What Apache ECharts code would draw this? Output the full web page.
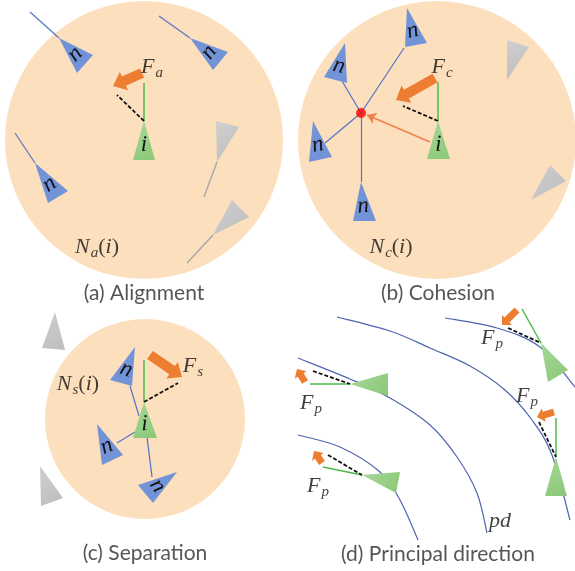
<!DOCTYPE html>
<html>
<head>
<meta charset="utf-8">
<script src="https://cdn.jsdelivr.net/npm/echarts@6/dist/echarts.min.js"></script>
<style>
  html, body { margin: 0; padding: 0; background: #fff; }
  #main { width: 575px; height: 571px; }
</style>
</head>
<body>
<div id="main"></div>
<script>
// neighbourhood circles: cx, cy, r
const circles = [[144, 140, 139], [437, 140, 139], [145, 419, 100]];

// agents: apex x,y then the two base corners
const triN = [
    [59, 38, 93, 55, 77, 73], [190, 38, 228, 52, 213, 70], [35, 163, 68, 191, 48, 203],
    [407, 8, 427, 43, 405, 47], [345, 43, 324, 77, 347, 83], [313, 121, 332, 157, 309, 162], [361, 182, 376, 221, 353, 221],
    [135, 347, 110, 380, 132, 386], [97, 424, 123, 455, 102, 465], [177, 472, 138, 485, 153, 503]
];
const triI = [[144, 121, 133, 160, 155, 160], [438, 121, 427, 159, 450, 159], [144, 402, 133, 438, 157, 438]];
const triGray = [
    [217, 162, 216, 121, 239, 127], [213, 235, 232, 200, 249, 217],
    [507, 80, 507, 40, 529, 47], [531, 200, 550, 165, 566, 181],
    [55, 312, 65, 350, 42, 348], [40, 466, 63, 498, 41, 506]
];
const triPd = [[350, 384, 388, 373, 388, 396], [362, 475, 400, 472, 396, 493], [541, 343, 568, 370, 548, 382], [556, 457, 545, 496, 567, 496]];

// segments: x1, y1, x2, y2
const blueLines = [
    [30, 12, 59, 38], [159, 16, 190, 38], [15, 133, 35, 163],
    [404, 48, 361, 113], [342, 81, 361, 113], [325, 143, 361, 113], [361.5, 182, 361.5, 113],
    [130, 386, 139, 416], [117, 443, 135, 432], [147, 437, 152, 477]
];
const grayLines = [[217, 162, 204, 197], [213, 235, 187, 263]];
const greenLines = [
    [144, 121, 144, 83], [438, 121, 438, 82], [144, 402, 144, 360],
    [310, 384, 350, 384], [323, 467, 362, 475], [522, 309, 541, 343], [556, 418, 556, 457]
];
const dashLines = [
    [144, 121, 117, 95], [438, 121, 403, 106], [144, 402, 178, 383],
    [313, 371, 350, 384], [328, 455, 362, 475], [508, 328, 541, 343], [539, 422, 556, 457]
];
const cohesionLine = [[430, 142, 367, 115]];
const centerOfMass = [[361, 113]];

// force arrows: tail x,y -> tip x,y
const bigArrows = [[142, 73, 113, 86], [435, 78, 396, 100], [150, 355, 182, 377]];
const smallArrows = [[305, 382, 297, 369], [322, 463, 314, 451], [517, 310, 502, 325], [554, 412, 537, 417]];

// principal direction curves
const curveA = [[298, 435], [340, 447], [380, 472], [400, 500], [418, 540]];
const curveB = [[298, 358], [350, 379], [390, 398], [430, 425], [457, 457], [477, 493], [487, 533]];
const curveC = [[337, 317], [390, 331], [430, 348], [470, 366], [505, 390], [532, 420], [552, 455], [570, 520]];
const curveD = [[445, 318], [497, 328], [540, 347], [575, 387]];

// texts
const captions = ['(a) Alignment', '(b) Cohesion', '(c) Separation', '(d) Principal direction'];
const captionPos = [[144, 293], [438, 293], [145, 553], [438, 554]];
const mathLabels = [
    [152, 67, '{f|F}{s|a}'], [442, 67, '{f|F}{s|c}'], [193, 366, '{f|F}{s|s}'],
    [97, 247, '{f|N}{s|a}{r|(}{f|i}{r|)}'], [391, 247, '{f|N}{s|c}{r|(}{f|i}{r|)}'], [78, 384, '{f|N}{s|s}{r|(}{f|i}{r|)}'],
    [311, 403, '{f|F}{s|p}'], [318, 486, '{f|F}{s|p}'], [492, 338, '{f|F}{s|p}'], [527, 396, '{f|F}{s|p}'],
    [500, 521, '{f|pd}']
];

const SERIF = "'Liberation Serif', 'DejaVu Serif', serif";

let chart = echarts.init(document.getElementById('main'));

function segs(arr) {
    return arr.map(s => ({ coords: [[s[0], s[1]], [s[2], s[3]]] }));
}

function triangleSeries(data, fill, letter, z) {
    return {
        type: 'custom',
        z: z,
        silent: true,
        data: data,
        renderItem: function (params, api) {
            let a = api.coord([api.value(0), api.value(1)]);
            let b = api.coord([api.value(2), api.value(3)]);
            let c = api.coord([api.value(4), api.value(5)]);
            let children = [{
                type: 'polygon',
                shape: { points: [a, b, c] },
                style: { fill: fill }
            }];
            if (letter) {
                let mx = (b[0] + c[0]) / 2, my = (b[1] + c[1]) / 2;
                let hx = a[0] - mx, hy = a[1] - my;
                let px = a[0] + (mx - a[0]) * 0.7, py = a[1] + (my - a[1]) * 0.7;
                children.push({
                    type: 'text',
                    x: px, y: py,
                    rotation: Math.atan2(-hx, -hy),
                    style: {
                        text: letter, y: -3,
                        font: 'italic 23px ' + SERIF,
                        fill: '#111',
                        align: 'center', verticalAlign: 'middle'
                    }
                });
            }
            return { type: 'group', children: children };
        }
    };
}

function arrowSeries(data, shaft, head, headLen, z) {
    return {
        type: 'custom',
        z: z,
        silent: true,
        data: data,
        renderItem: function (params, api) {
            let t = api.coord([api.value(0), api.value(1)]);
            let p = api.coord([api.value(2), api.value(3)]);
            let dx = p[0] - t[0], dy = p[1] - t[1];
            let len = Math.sqrt(dx * dx + dy * dy);
            let ux = dx / len, uy = dy / len, nx = -uy, ny = ux;
            let bx = p[0] - ux * headLen, by = p[1] - uy * headLen;
            let pts = [
                [t[0] + nx * shaft / 2, t[1] + ny * shaft / 2],
                [bx + nx * shaft / 2, by + ny * shaft / 2],
                [bx + nx * head / 2, by + ny * head / 2],
                p,
                [bx - nx * head / 2, by - ny * head / 2],
                [bx - nx * shaft / 2, by - ny * shaft / 2],
                [t[0] - nx * shaft / 2, t[1] - ny * shaft / 2]
            ];
            return { type: 'polygon', shape: { points: pts }, style: { fill: '#ED7D31' } };
        }
    };
}

// Catmull-Rom path through the read points
function curve(data) {
    return {
        type: 'custom', z: 2, silent: true, data: data,
        renderItem: function (params, api) {
            if (params.dataIndex !== 0) return;
            let p = data.map(d => api.coord(d));
            let d = 'M' + p[0][0] + ' ' + p[0][1];
            for (let k = 0; k < p.length - 1; k++) {
                let p0 = p[Math.max(k - 1, 0)], p1 = p[k], p2 = p[k + 1], p3 = p[Math.min(k + 2, p.length - 1)];
                let c1x = p1[0] + (p2[0] - p0[0]) / 6, c1y = p1[1] + (p2[1] - p0[1]) / 6;
                let c2x = p2[0] - (p3[0] - p1[0]) / 6, c2y = p2[1] - (p3[1] - p1[1]) / 6;
                d += ' C' + c1x + ' ' + c1y + ' ' + c2x + ' ' + c2y + ' ' + p2[0] + ' ' + p2[1];
            }
            return {
                type: 'path', shape: { pathData: d },
                style: { fill: 'none', stroke: '#4F63B0', lineWidth: 1.2 }
            };
        }
    };
}

let greenFill = new echarts.graphic.LinearGradient(0, 0, 1, 1, [
    { offset: 0, color: '#A6D897' }, { offset: 1, color: '#8BC878' }
]);
let grayFill = new echarts.graphic.LinearGradient(0, 0, 1, 1, [
    { offset: 0, color: '#CFCFCF' }, { offset: 1, color: '#BDBDBD' }
]);

let option = {
    animation: false,
    grid: { left: 0, right: 0, top: 0, bottom: 0 },
    xAxis: { type: 'value', min: 0, max: 575, show: false },
    yAxis: { type: 'value', min: 0, max: 571, inverse: true, show: false },
    series: [
        {
            type: 'custom',
            z: 1,
            silent: true,
            data: circles,
            renderItem: function (params, api) {
                let c = api.coord([api.value(0), api.value(1)]);
                let r = api.size([api.value(2), 0])[0];
                return { type: 'circle', shape: { cx: c[0], cy: c[1], r: r }, style: { fill: '#FCDFBD' } };
            }
        },
        curve(curveA), curve(curveB), curve(curveC), curve(curveD),
        {
            type: 'lines', coordinateSystem: 'cartesian2d', z: 3, silent: true,
            data: segs(blueLines), lineStyle: { color: '#5574C6', width: 1.2, opacity: 1 }
        },
        {
            type: 'lines', coordinateSystem: 'cartesian2d', z: 3, silent: true,
            data: segs(grayLines), lineStyle: { color: '#A9A9A9', width: 1.5, opacity: 1 }
        },
        {
            type: 'lines', coordinateSystem: 'cartesian2d', z: 3, silent: true,
            symbol: ['none', 'arrow'], symbolSize: 9,
            data: segs(cohesionLine), lineStyle: { color: '#F0804A', width: 1.5, opacity: 1 }
        },
        triangleSeries(triN, '#7393D9', 'n', 4),
        triangleSeries(triI, greenFill, 'i', 4),
        triangleSeries(triGray, grayFill, null, 4),
        triangleSeries(triPd, greenFill, null, 4),
        {
            type: 'lines', coordinateSystem: 'cartesian2d', z: 5, silent: true,
            data: segs(greenLines), lineStyle: { color: '#4DBB4A', width: 1.5, opacity: 1 }
        },
        {
            type: 'lines', coordinateSystem: 'cartesian2d', z: 5, silent: true,
            data: segs(dashLines), lineStyle: { color: '#111', width: 1.8, type: [4, 2], opacity: 1 }
        },
        {
            type: 'scatter', z: 6, silent: true, data: centerOfMass,
            symbolSize: 10, itemStyle: { color: '#FF0000' }
        },
        arrowSeries(bigArrows, 10, 20, 12, 6),
        arrowSeries(smallArrows, 7, 14, 7, 6),
        {
            type: 'scatter', z: 7, silent: true, symbolSize: 0,
            data: captionPos.map((p, k) => ({ value: p, name: captions[k] })),
            label: {
                show: true, position: 'inside', formatter: '{b}',
                fontFamily: 'Lato, "Open Sans", sans-serif', fontSize: 21, color: '#2b2b2b'
            }
        },
        {
            type: 'scatter', z: 7, silent: true, symbolSize: 0,
            data: mathLabels.map(m => ({ value: [m[0], m[1]], name: m[2] })),
            label: {
                show: true, position: 'inside', formatter: '{b}',
                rich: {
                    f: { fontFamily: SERIF, fontStyle: 'italic', fontSize: 22, color: '#111' },
                    r: { fontFamily: SERIF, fontSize: 22, color: '#111' },
                    s: { fontFamily: SERIF, fontStyle: 'italic', fontSize: 15, color: '#111', padding: [13, 0, 0, 1] }
                }
            }
        }
    ]
};
chart.setOption(option);
</script>
</body>
</html>
